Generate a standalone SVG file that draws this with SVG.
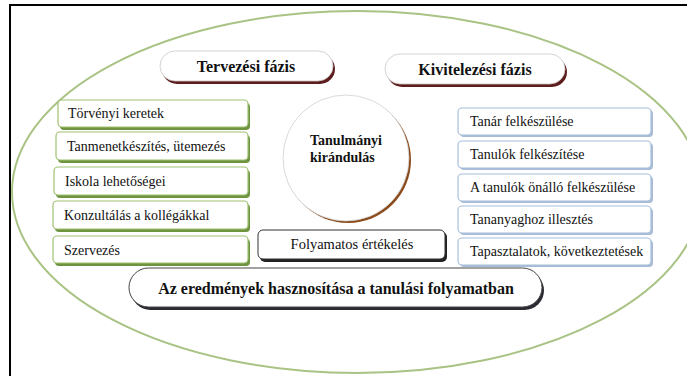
<svg xmlns="http://www.w3.org/2000/svg" width="687" height="376" viewBox="0 0 687 376">
<style>
  .t{fill:#111}
  .gs{fill:#6f9440}
  .gb{fill:#fff;stroke:#9fc070;stroke-width:1.2}
  .bs{fill:#a9bcd6}
  .bb{fill:#fff;stroke:#a8bedc;stroke-width:1.2}
  .ps{fill:#5e1c1c}
  .pb{fill:#fff;stroke:#c8c8c8;stroke-width:0.8}
</style>
<rect x="0" y="0" width="687" height="376" fill="#fff"/>
<path d="M10,376 V5 H687" fill="none" stroke="#000" stroke-width="2"/>
<g id="outer">
  <ellipse cx="357" cy="192" rx="345" ry="181" fill="none" stroke="#a9c384" stroke-width="2"/>
</g>
<g id="connectors"></g>
<g font-family="Liberation Serif">
<g id="tervezesi">
  <rect class="ps" x="162" y="54" width="173" height="30" rx="15"/>
  <rect class="pb" x="160" y="51" width="173" height="30" rx="15"/>
  <text class="t" font-family="Liberation Serif" font-weight="bold" x="246" y="72" font-size="16" text-anchor="middle">Tervezési fázis</text>
</g>
<g id="kivitelezesi">
  <rect class="ps" x="387" y="57" width="180" height="30" rx="15"/>
  <rect class="pb" x="385" y="54" width="180" height="30" rx="15"/>
  <text class="t" font-family="Liberation Serif" font-weight="bold" x="475" y="75" font-size="16" text-anchor="middle">Kivitelezési fázis</text>
</g>
<g id="kozep">
  <circle cx="348" cy="160" r="63" fill="#8b4a1a"/>
  <circle cx="346" cy="158" r="63" fill="#fff" stroke="#cfcfcf" stroke-width="0.8"/>
  <text class="t" font-family="Liberation Serif" font-weight="bold" x="310" y="145" font-size="14">Tanulmányi</text>
  <text class="t" font-family="Liberation Serif" font-weight="bold" x="310" y="162" font-size="14">kirándulás</text>
</g>
<g id="l1">
  <rect class="gs" x="60" y="103" width="190" height="27" rx="4"/>
  <rect class="gb" x="58" y="100" width="190" height="27" rx="4"/>
  <text class="t" font-family="Liberation Serif" x="68" y="118" font-size="14">Törvényi keretek</text>
</g>
<g id="l2">
  <rect class="gs" x="58" y="135" width="192" height="28" rx="4"/>
  <rect class="gb" x="56" y="132" width="192" height="28" rx="4"/>
  <text class="t" font-family="Liberation Serif" x="67" y="151" font-size="14">Tanmenetkészítés, ütemezés</text>
</g>
<g id="l3">
  <rect class="gs" x="56" y="170" width="194" height="28" rx="4"/>
  <rect class="gb" x="54" y="167" width="194" height="28" rx="4"/>
  <text class="t" font-family="Liberation Serif" x="65" y="186" font-size="14">Iskola lehetőségei</text>
</g>
<g id="l4">
  <rect class="gs" x="55" y="204" width="195" height="28" rx="4"/>
  <rect class="gb" x="53" y="201" width="195" height="28" rx="4"/>
  <text class="t" font-family="Liberation Serif" x="64" y="220" font-size="14">Konzultálás a kollégákkal</text>
</g>
<g id="l5">
  <rect class="gs" x="55" y="239" width="195" height="27" rx="4"/>
  <rect class="gb" x="53" y="236" width="195" height="27" rx="4"/>
  <text class="t" font-family="Liberation Serif" x="64" y="255" font-size="14">Szervezés</text>
</g>
<g id="r1">
  <rect class="bs" x="460" y="110" width="193" height="27" rx="4"/>
  <rect class="bb" x="458" y="108" width="193" height="27" rx="4"/>
  <text class="t" font-family="Liberation Serif" x="470" y="126" font-size="14">Tanár felkészülése</text>
</g>
<g id="r2">
  <rect class="bs" x="460" y="143" width="193" height="27" rx="4"/>
  <rect class="bb" x="458" y="141" width="193" height="27" rx="4"/>
  <text class="t" font-family="Liberation Serif" x="470" y="159" font-size="14">Tanulók felkészítése</text>
</g>
<g id="r3">
  <rect class="bs" x="460" y="176" width="193" height="27" rx="4"/>
  <rect class="bb" x="458" y="174" width="193" height="27" rx="4"/>
  <text class="t" font-family="Liberation Serif" x="470" y="192" font-size="14">A tanulók önálló felkészülése</text>
</g>
<g id="r4">
  <rect class="bs" x="460" y="208" width="193" height="27" rx="4"/>
  <rect class="bb" x="458" y="206" width="193" height="27" rx="4"/>
  <text class="t" font-family="Liberation Serif" x="470" y="224" font-size="14">Tananyaghoz illesztés</text>
</g>
<g id="r5">
  <rect class="bs" x="460" y="240" width="193" height="27" rx="4"/>
  <rect class="bb" x="458" y="238" width="193" height="27" rx="4"/>
  <text class="t" font-family="Liberation Serif" x="470" y="256" font-size="14">Tapasztalatok, következtetések</text>
</g>
<g id="folyamatos">
  <rect x="260" y="232" width="187" height="30" rx="5" fill="#222"/>
  <rect x="258" y="230" width="187" height="29" rx="5" fill="#fff" stroke="#333" stroke-width="1"/>
  <text class="t" font-family="Liberation Serif" x="352" y="249" font-size="14.5" text-anchor="middle">Folyamatos értékelés</text>
</g>
<g id="eredmenyek">
  <rect x="131" y="271" width="413" height="39" rx="19.5" fill="#2a2a33"/>
  <rect x="129" y="268" width="413" height="39" rx="19.5" fill="#fff" stroke="#444" stroke-width="1"/>
  <text class="t" font-family="Liberation Serif" font-weight="bold" x="336" y="294" font-size="16" text-anchor="middle">Az eredmények hasznosítása a tanulási folyamatban</text>
</g>
</g>
</svg>
